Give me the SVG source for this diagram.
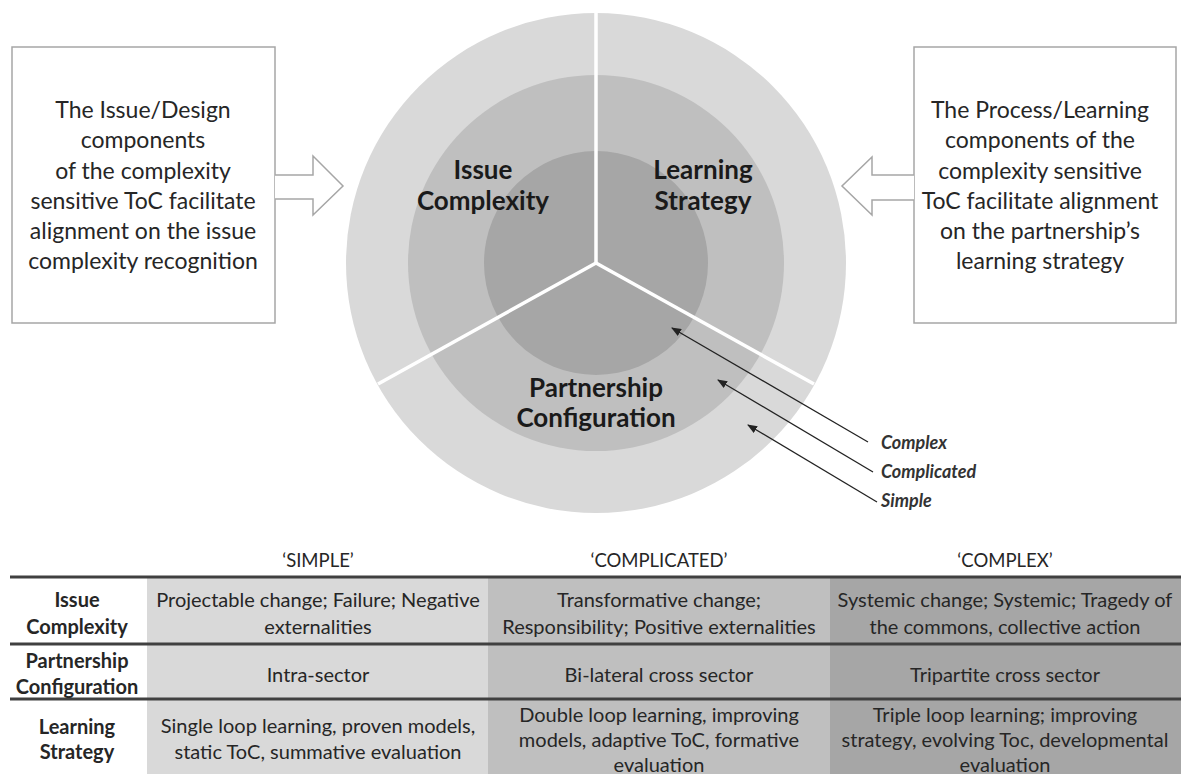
<svg xmlns="http://www.w3.org/2000/svg" width="1181" height="774" viewBox="0 0 1181 774">
<defs>
<style>
text{font-family:Lato,"Liberation Sans",sans-serif;fill:#262626}
.box{fill:#fff;stroke:#a6a6a6;stroke-width:1.5}
.bt{font-size:23px;text-anchor:middle}
.seg{font-size:26px;font-weight:bold;text-anchor:middle;fill:#1a1a1a}
.lvl{font-size:18px;font-weight:bold;font-style:italic;fill:#333}
.ptr{stroke:#222;stroke-width:1.3;fill:none;marker-end:url(#ah)}
.div{stroke:#fff;stroke-width:3.5}
.th{font-size:18.5px;text-anchor:middle}
.td{font-size:20px;text-anchor:middle}
.rl{font-size:20px;font-weight:bold;text-anchor:middle}
.rule{stroke:#404040;stroke-width:3}
</style>
<marker id="ah" markerWidth="10" markerHeight="8" refX="9" refY="4" orient="auto" markerUnits="userSpaceOnUse">
<path d="M0,0 L10,4 L0,8 Z" fill="#222"/>
</marker>
</defs>
<rect width="1181" height="774" fill="#fff"/>

<g id="wheel">
<circle cx="596" cy="263" r="250" fill="#d9d9d9"/>
<circle cx="596" cy="263" r="188" fill="#bfbfbf"/>
<circle cx="596" cy="263" r="112" fill="#a6a6a6"/>
<line class="div" x1="596" y1="263" x2="596" y2="12"/>
<line class="div" x1="596" y1="263" x2="378" y2="384"/>
<line class="div" x1="596" y1="263" x2="814" y2="384"/>
</g>
<g id="issue-complexity">
<text class="seg" x="483" y="179">Issue</text>
<text class="seg" x="483" y="210">Complexity</text>
</g>
<g id="learning-strategy">
<text class="seg" x="703" y="179">Learning</text>
<text class="seg" x="703" y="210">Strategy</text>
</g>
<g id="partnership-configuration">
<text class="seg" x="596" y="397">Partnership</text>
<text class="seg" x="596" y="427">Configuration</text>
</g>

<g id="left-box">
<rect class="box" x="12" y="47" width="263" height="276"/>
<text class="bt" x="143" y="118">The Issue/Design</text>
<text class="bt" x="143" y="148">components</text>
<text class="bt" x="143" y="179">of the complexity</text>
<text class="bt" x="143" y="209">sensitive ToC facilitate</text>
<text class="bt" x="143" y="239">alignment on the issue</text>
<text class="bt" x="143" y="269">complexity recognition</text>
</g>
<g id="right-box">
<rect class="box" x="914" y="47" width="262" height="276"/>
<text class="bt" x="1040" y="118">The Process/Learning</text>
<text class="bt" x="1040" y="148">components of the</text>
<text class="bt" x="1040" y="179">complexity sensitive</text>
<text class="bt" x="1040" y="209">ToC facilitate alignment</text>
<text class="bt" x="1040" y="239">on the partnership’s</text>
<text class="bt" x="1040" y="269">learning strategy</text>
</g>

<g id="connectors">
<path class="box" d="M275,175 L313,175 L313,156 L343,186 L313,215 L313,199 L275,199"/>
<path class="box" d="M914,175 L872,175 L872,157 L842,186 L872,215 L872,200 L914,200"/>
<line class="ptr" x1="868" y1="442" x2="672" y2="328"/>
<line class="ptr" x1="873" y1="472" x2="718" y2="380"/>
<line class="ptr" x1="877" y1="502" x2="748" y2="425"/>
</g>
<g id="levels">
<text class="lvl" x="881" y="449">Complex</text>
<text class="lvl" x="881" y="478">Complicated</text>
<text class="lvl" x="881" y="507">Simple</text>
</g>

<g id="table">
<rect x="147" y="577" width="341" height="197" fill="#d9d9d9"/>
<rect x="488" y="577" width="342" height="197" fill="#bfbfbf"/>
<rect x="830" y="577" width="351" height="197" fill="#a6a6a6"/>
<line class="rule" x1="10" y1="577" x2="1181" y2="577"/>
<line class="rule" x1="10" y1="644" x2="1181" y2="644"/>
<line class="rule" x1="10" y1="699" x2="1181" y2="699"/>
<text class="th" x="318" y="567">‘SIMPLE’</text>
<text class="th" x="659" y="567">‘COMPLICATED’</text>
<text class="th" x="1005" y="567">‘COMPLEX’</text>
<text class="rl" x="77" y="607">Issue</text>
<text class="rl" x="77" y="634">Complexity</text>
<text class="rl" x="77" y="668">Partnership</text>
<text class="rl" x="77" y="694">Configuration</text>
<text class="rl" x="77" y="734">Learning</text>
<text class="rl" x="77" y="759">Strategy</text>
<text class="td" x="318" y="607">Projectable change; Failure; Negative</text>
<text class="td" x="318" y="634">externalities</text>
<text class="td" x="659" y="607">Transformative change;</text>
<text class="td" x="659" y="634">Responsibility; Positive externalities</text>
<text class="td" x="1005" y="607">Systemic change; Systemic; Tragedy of</text>
<text class="td" x="1005" y="634">the commons, collective action</text>
<text class="td" x="318" y="682">Intra-sector</text>
<text class="td" x="659" y="682">Bi-lateral cross sector</text>
<text class="td" x="1005" y="682">Tripartite cross sector</text>
<text class="td" x="318" y="733">Single loop learning, proven models,</text>
<text class="td" x="318" y="759">static ToC, summative evaluation</text>
<text class="td" x="659" y="722">Double loop learning, improving</text>
<text class="td" x="659" y="747">models, adaptive ToC, formative</text>
<text class="td" x="659" y="772">evaluation</text>
<text class="td" x="1005" y="722">Triple loop learning; improving</text>
<text class="td" x="1005" y="747">strategy, evolving Toc, developmental</text>
<text class="td" x="1005" y="772">evaluation</text>
</g>
</svg>
